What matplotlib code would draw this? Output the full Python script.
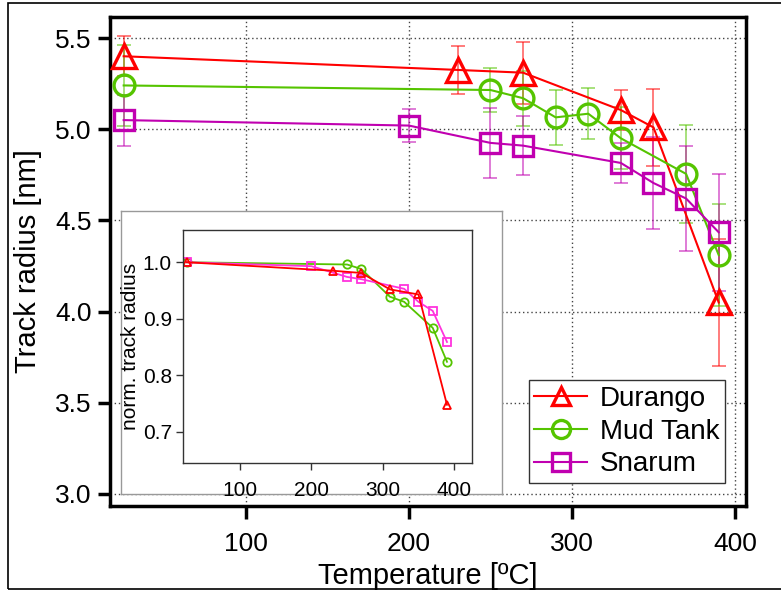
import matplotlib
matplotlib.use("Agg")
import matplotlib.pyplot as plt
from matplotlib.patches import Rectangle
from matplotlib.ticker import FormatStrFormatter

plt.rcParams['font.family'] = ['Liberation Sans', 'DejaVu Sans']

# main panel: track radius [nm] with errors
dur_t = [25, 230, 270, 330, 350, 390]
dur_r = [5.40, 5.325, 5.31, 5.105, 5.01, 4.05]
dur_e = [0.11, 0.13, 0.17, 0.11, 0.21, 0.35]

mud_t = [25, 250, 270, 290, 310, 330, 370, 390]
mud_r = [5.24, 5.215, 5.17, 5.065, 5.085, 4.95, 4.755, 4.31]
mud_e = [0.22, 0.12, 0.15, 0.15, 0.14, 0.17, 0.27, 0.28]

sna_t = [25, 200, 250, 270, 330, 350, 370, 390]
sna_r = [5.05, 5.02, 4.925, 4.91, 4.815, 4.705, 4.62, 4.435]
sna_e = [0.14, 0.09, 0.19, 0.16, 0.11, 0.25, 0.29, 0.32]

# inset: normalised radius
dur_nt = [25, 230, 270, 310, 350, 390]
dur_n = [1.0, 0.985, 0.981, 0.952, 0.943, 0.748]
mud_nt = [25, 250, 270, 310, 330, 370, 390]
mud_n = [1.0, 0.996, 0.988, 0.939, 0.930, 0.884, 0.824]
sna_nt = [25, 200, 250, 270, 330, 350, 370, 390]
sna_n = [1.0, 0.993, 0.974, 0.970, 0.953, 0.930, 0.914, 0.859]

RED = '#ff0000'
GREEN = '#55c400'
MAG = '#c000b0'
PINK = '#ff33dd'

fig = plt.figure(figsize=(7.81, 5.94), dpi=100)
fig.patches.append(Rectangle((8/781, 5/594), 1.0, 586/594, transform=fig.transFigure,
                             fill=False, edgecolor='black', linewidth=1.2))

ax = fig.add_axes([0.1408, 0.1481, 0.8143, 0.8232])
series = [
    (dur_t, dur_r, dur_e, RED, '^', 17, 'Durango'),
    (mud_t, mud_r, mud_e, GREEN, 'o', 15, 'Mud Tank'),
    (sna_t, sna_r, sna_e, MAG, 's', 14, 'Snarum'),
]
for t, r, e, c, m, ms, lab in series:
    ax.errorbar(t, r, yerr=e, fmt='none', ecolor=c, alpha=0.6, elinewidth=1.2,
                capsize=5, capthick=1.2, zorder=2)
    ax.plot(t, r, color=c, marker=m, markersize=ms, markerfacecolor='none',
            markeredgewidth=2.4, linewidth=1.5, label=lab, zorder=3)

ax.set_xlim(16.6, 406.7)
ax.set_ylim(2.934, 5.615)
ax.set_xticks([100, 200, 300, 400])
ax.set_yticks([3.0, 3.5, 4.0, 4.5, 5.0, 5.5])
ax.yaxis.set_major_formatter(FormatStrFormatter('%.1f'))
ax.grid(True, linestyle=(0, (1, 2)), color='#444444', linewidth=1.0)
ax.tick_params(direction='out', length=9, width=2.5, labelsize=19, pad=4)
ax.tick_params(axis='x', pad=10)
for s in ax.spines.values():
    s.set_linewidth(2.5)
ax.set_xlabel('Temperature [ºC]', fontsize=21, labelpad=4)
ax.set_ylabel('Track radius [nm]', fontsize=21, labelpad=10)

leg = ax.legend(loc='lower right', bbox_to_anchor=(0.967, 0.047), fontsize=20,
                frameon=True, fancybox=False, framealpha=1, edgecolor='#333333',
                handlelength=1.9, borderpad=0.2, labelspacing=0.25,
                handletextpad=0.45, borderaxespad=0)
leg.get_frame().set_linewidth(1.0)
for h in leg.legend_handles:
    h.set_markersize(13)

# white backing box of the inset
bg = fig.add_axes([0.1549, 0.1684, 0.4878, 0.4764])
bg.set_xticks([])
bg.set_yticks([])
for s in bg.spines.values():
    s.set_edgecolor('#999999')
    s.set_linewidth(1.0)

ins = fig.add_axes([0.2343, 0.2205, 0.3700, 0.3923])
ins.plot(mud_nt, mud_n, color=GREEN, marker='o', markersize=6, markerfacecolor='none',
         markeredgewidth=1.3, linewidth=1.3)
ins.plot(sna_nt, sna_n, color=PINK, marker='s', markersize=6, markerfacecolor='none',
         markeredgewidth=1.3, linewidth=1.3)
ins.plot(dur_nt, dur_n, color=RED, marker='^', markersize=6, markerfacecolor='none',
         markeredgewidth=1.3, linewidth=1.3)
ins.set_xlim(20, 425)
ins.set_ylim(0.645, 1.057)
ins.set_xticks([100, 200, 300, 400])
ins.set_yticks([0.7, 0.8, 0.9, 1.0])
ins.yaxis.set_major_formatter(FormatStrFormatter('%.1f'))
ins.tick_params(direction='out', length=5, width=1, labelsize=15, pad=3, color='#333333')
ins.tick_params(axis='x', pad=8)
for s in ins.spines.values():
    s.set_edgecolor('#333333')
    s.set_linewidth(1.0)
ins.set_ylabel('norm. track radius', fontsize=15, labelpad=2)

fig.savefig('out.png', dpi=100)
